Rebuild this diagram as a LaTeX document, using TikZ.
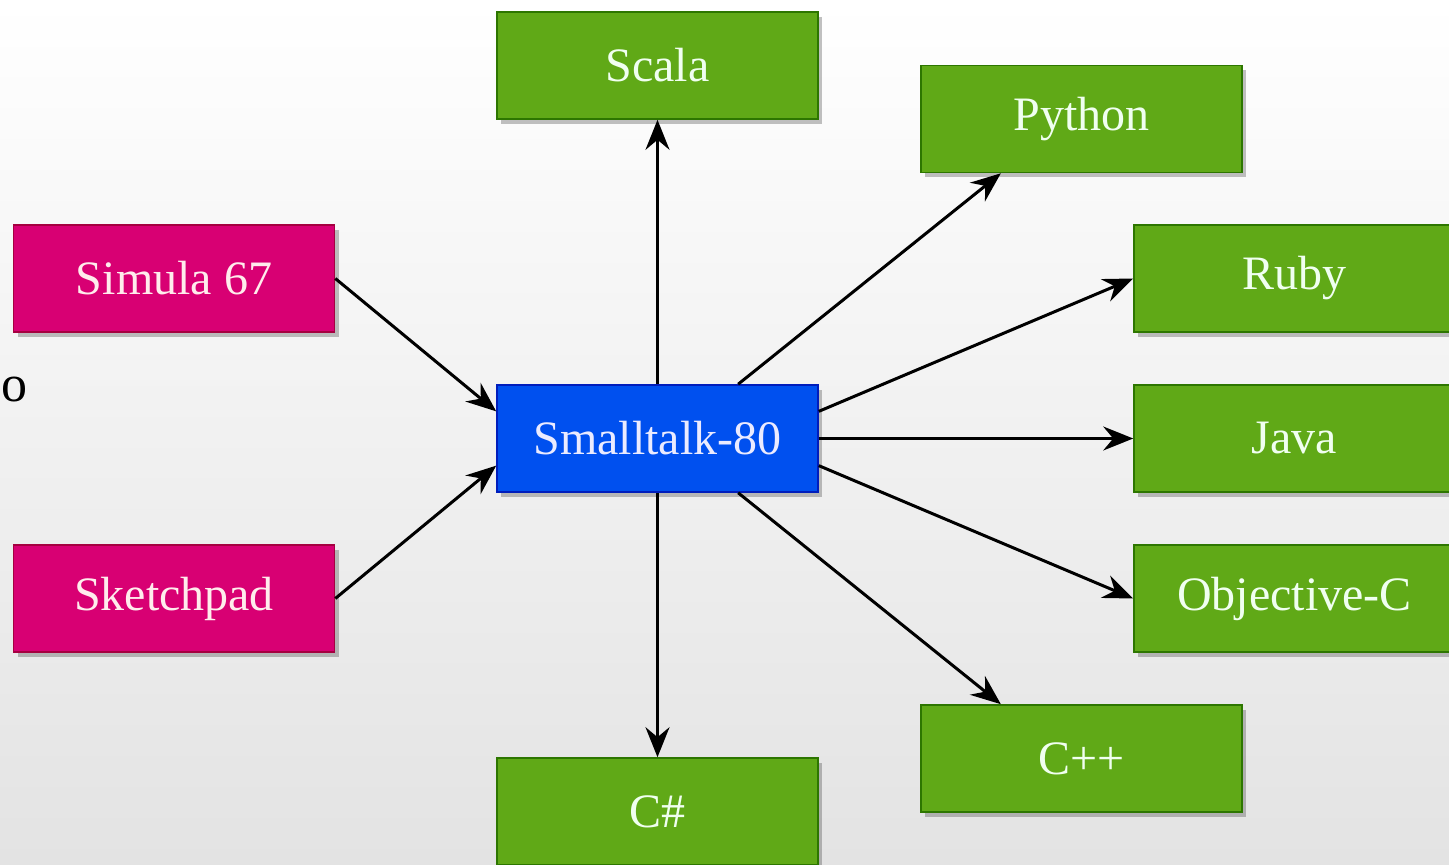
\documentclass[tikz,border=0pt]{standalone}
\usepackage{fontspec}
\setmainfont{Liberation Serif}
\usetikzlibrary{arrows.meta,shadows,calc}
\definecolor{gfill}{HTML}{60A917}
\definecolor{gdraw}{HTML}{2D7600}
\definecolor{pfill}{HTML}{D80073}
\definecolor{pdraw}{HTML}{A50040}
\definecolor{bfill}{HTML}{0050EF}
\definecolor{bdraw}{HTML}{001DBC}
\tikzset{
  box/.style={rectangle, minimum width=160.5pt, minimum height=53.5pt, inner sep=0pt,
    line width=0.8pt, text=white, font=\fontsize{24}{28}\selectfont,
    drop shadow={shadow xshift=2pt, shadow yshift=-2.5pt, opacity=0.3, fill=black!80}},
  gbox/.style={box, fill=gfill, draw=gdraw, text=green!6!white},
  pbox/.style={box, fill=pfill, draw=pdraw, text=pink!30!white},
  bbox/.style={box, fill=bfill, draw=bdraw, text=blue!8!white},
  arr/.style={-{Stealth[length=15pt,width=12pt,inset=5pt]}, line width=1.5pt, black}
}
\begin{document}
\begin{tikzpicture}[x=0.5pt,y=-0.5pt]
\path[use as bounding box] (0,0) rectangle (1449,865);
\clip (0,0) rectangle (1449,865);
\shade[top color=white, bottom color=black!11] (0,0) rectangle (1449,865);
\node[anchor=west, inner sep=0pt, font=\fontsize{26}{30}\selectfont] (frag) at (1,390) {o};
\node[gbox] (scala) at (657.5,65.5) {Scala};
\node[gbox] (python) at (1081.5,119) {Python};
\node[pbox] (simula) at (174,278.5) {Simula 67};
\node[gbox] (ruby) at (1294.5,278.5) {Ruby};
\node[bbox] (st) at (657.5,438.5) {Smalltalk-80};
\node[gbox] (java) at (1294.5,438.5) {Java};
\node[pbox] (sketch) at (174,598.5) {Sketchpad};
\node[gbox] (objc) at (1294.5,598.5) {Objective-C};
\node[gbox] (cpp) at (1081.5,758.5) {C++};
\node[gbox] (cs) at (657.5,811.5) {C\#};
\draw[arr] (simula.east) -- ($(st.north west)!0.25!(st.south west)$);
\draw[arr] (sketch.east) -- ($(st.north west)!0.75!(st.south west)$);
\draw[arr] (st.north) -- (scala.south);
\draw[arr] ($(st.north west)!0.75!(st.north east)$) -- ($(python.south west)!0.25!(python.south east)$);
\draw[arr] ($(st.north east)!0.25!(st.south east)$) -- (ruby.west);
\draw[arr] (st.east) -- (java.west);
\draw[arr] ($(st.north east)!0.75!(st.south east)$) -- (objc.west);
\draw[arr] ($(st.south west)!0.75!(st.south east)$) -- ($(cpp.north west)!0.25!(cpp.north east)$);
\draw[arr] (st.south) -- (cs.north);
\end{tikzpicture}
\end{document}
